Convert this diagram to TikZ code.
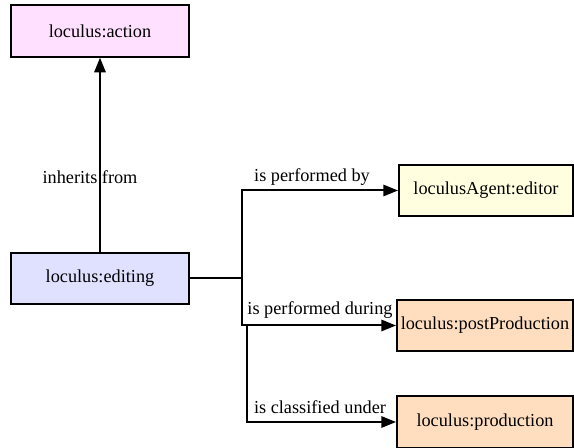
\documentclass[tikz,border=0pt]{standalone}
\usepackage{fontspec}
\setmainfont{Liberation Serif}
\newfontfamily\diafont{Liberation Serif}
\usetikzlibrary{arrows.meta}
\definecolor{actionfill}{RGB}{255,224,255}
\definecolor{editfill}{RGB}{224,224,255}
\definecolor{agentfill}{RGB}{255,255,224}
\definecolor{phasefill}{RGB}{255,222,192}

\begin{document}
\begin{tikzpicture}[x=0.75pt, y=-0.75pt,
  cls/.style={draw, line width=1.5, inner sep=0pt, minimum height=38.5pt, font=\diafont\fontsize{13.7}{16}\selectfont},
  lbl/.style={inner sep=0pt, font=\diafont\fontsize{13.7}{16}\selectfont},
  rel/.style={line width=1.5, -{Triangle[length=11pt, width=8.5pt]}}]
\useasboundingbox (0,0) rectangle (574,448);
\node[cls, fill=actionfill, minimum width=133.5pt] (action) at (100,31) {loculus:action};
\node[cls, fill=editfill, minimum width=133pt] (editing) at (100,278.5) {loculus:editing};
\node[cls, fill=agentfill, minimum width=130.5pt] (editor) at (486,190.5) {loculusAgent:editor};
\node[cls, fill=phasefill, minimum width=132pt] (post) at (485,325.5) {loculus:postProduction};
\node[cls, fill=phasefill, minimum width=132pt] (prod) at (485,422) {loculus:production};
\coordinate (split) at (242,278.5);
\coordinate (split2) at (247,325.5);
\draw[rel] (editing.north) -- (action.south);
\draw[line width=1.5] (editing.east) -- (split);
\draw[rel] (split) |- (editor.west);
\draw[rel] (split) |- (post.west);
\draw[rel] (split2) |- (prod.west);
\node[lbl] (inherits) at (90,177) {inherits from};
\node[lbl] (performedby) at (312,177) {is performed by};
\node[lbl] (during) at (320,310) {is performed during};
\node[lbl] (classified) at (320,407) {is classified under};
\end{tikzpicture}
\end{document}
